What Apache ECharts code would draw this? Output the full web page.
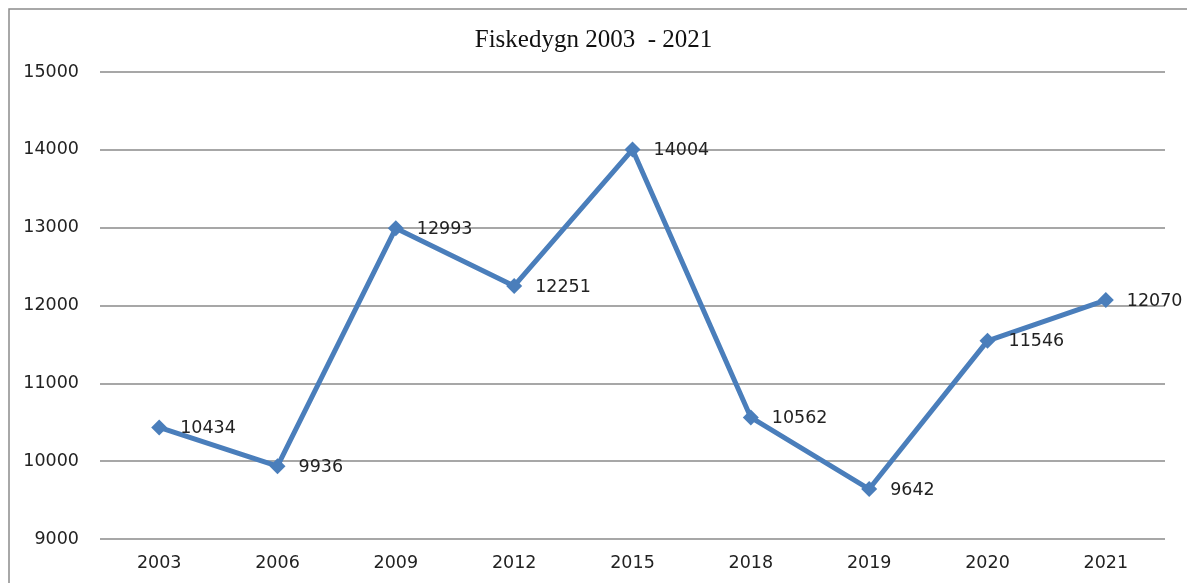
<!DOCTYPE html>
<html>
<head>
<meta charset="utf-8">
<script src="https://cdn.jsdelivr.net/npm/echarts@6/dist/echarts.min.js"></script>
<style>
html,body{margin:0;padding:0;background:#fff;}
#chart{width:1187px;height:583px;}
</style>
</head>
<body>
<div id="chart"></div>
<script>
var years = ['2003','2006','2009','2012','2015','2018','2019','2020','2021'];
var fiskedygn = [10434, 9936, 12993, 12251, 14004, 10562, 9642, 11546, 12070];
var yMin = 9000, yMax = 15000, yStep = 1000;

var chart = echarts.init(document.getElementById('chart'));
chart.setOption({
    animation: false,
    backgroundColor: '#fff',
    title: {
        text: 'Fiskedygn 2003  - 2021',
        left: 'center',
        top: 23,
        textStyle: {
            fontFamily: 'Liberation Serif',
            fontWeight: 'normal',
            fontSize: 25,
            color: '#111'
        }
    },
    //外框,右边和下边在画面外
    graphic: [{
        type: 'polyline',
        shape: {points: [[9, 600], [9, 9], [1200, 9]]},
        style: {fill: 'none', stroke: '#8c8c8c', lineWidth: 1.5},
        silent: true
    }],
    grid: {
        left: 100,
        right: 22,
        top: 72,
        bottom: 44
    },
    xAxis: {
        type: 'category',
        boundaryGap: true,
        data: years,
        axisLine: {show: false},
        axisTick: {show: false},
        axisLabel: {
            margin: 15,
            fontFamily: 'DejaVu Sans',
            fontSize: 17.5,
            color: '#222'
        }
    },
    yAxis: {
        type: 'value',
        min: yMin,
        max: yMax,
        interval: yStep,
        axisLine: {show: false},
        axisTick: {show: false},
        axisLabel: {
            margin: 21,
            fontFamily: 'DejaVu Sans',
            fontSize: 17.5,
            color: '#222',
            formatter: function (v) { return String(v); }
        },
        splitLine: {
            lineStyle: {color: '#8a8a8a', width: 1.5}
        }
    },
    series: [{
        name: 'Fiskedygn',
        type: 'line',
        data: fiskedygn,
        symbol: 'diamond',
        symbolSize: 16,
        itemStyle: {color: '#4a7ebb'},
        lineStyle: {color: '#4a7ebb', width: 5},
        label: {
            show: true,
            position: 'right',
            distance: 13,
            offset: [0, 1],
            fontFamily: 'DejaVu Sans',
            fontSize: 17.5,
            color: '#222'
        }
    }]
});
</script>
</body>
</html>
